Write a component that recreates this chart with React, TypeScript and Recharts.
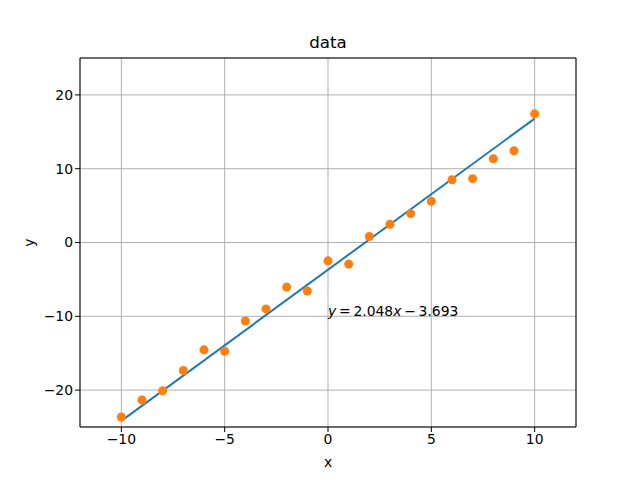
import {
  ComposedChart,
  Scatter,
  XAxis,
  YAxis,
  CartesianGrid,
  ReferenceArea,
  ReferenceDot,
} from 'recharts';

const xValues = [-10, -9, -8, -7, -6, -5, -4, -3, -2, -1, 0, 1, 2, 3, 4, 5, 6, 7, 8, 9, 10];
const yValues = [
  -23.65, -21.35, -20.09, -17.35, -14.55, -14.73, -10.64, -9.0, -6.04, -6.58, -2.49,
  -2.93, 0.81, 2.47, 3.92, 5.58, 8.51, 8.65, 11.35, 12.43, 17.43,
];
const fitX = [-10, 10];
const fitY = [-24.17, 16.79];
const xTicks = [-10, -5, 0, 5, 10];
const yTicks = [-20, -10, 0, 10, 20];

const points = xValues.map((x, i) => ({ x, y: yValues[i] }));
const fitLine = fitX.map((x, i) => ({ x, y: fitY[i] }));

const FONT = 'DejaVu Sans';
const THIN = '\u2009';

const EquationLabel = (props: any) => {
  const vb = props.viewBox || {};
  const x = vb.cx ?? vb.x;
  const y = vb.cy ?? vb.y;
  return (
    <text x={x} y={y} fontSize={13.9} fill="#000" fontFamily={FONT}>
      <tspan fontStyle="italic">y</tspan>
      <tspan>{`${THIN}=${THIN}2.048`}</tspan>
      <tspan fontStyle="italic">x</tspan>
      <tspan>{`${THIN}−${THIN}3.693`}</tspan>
    </text>
  );
};

const YLabel = (props: any) => {
  const vb = props.viewBox || {};
  const cx = 29;
  const cy = vb.y + vb.height / 2;
  return (
    <text
      x={cx}
      y={cy}
      transform={`rotate(-90 ${cx} ${cy})`}
      textAnchor="middle"
      dominantBaseline="central"
      fontSize={13.9}
      fill="#000"
      fontFamily={FONT}
    >
      y
    </text>
  );
};

const NoDot = () => null;

export default function App() {
  return (
    <div style={{ position: 'absolute', left: 0, top: 0, width: 640, height: 480, background: '#fff' }}>
      <div
        style={{
          position: 'absolute',
          left: 80,
          width: 496,
          top: 32,
          textAlign: 'center',
          fontFamily: FONT,
          fontSize: 16.7,
          color: '#000',
        }}
      >
        data
      </div>
      <ComposedChart
        width={640}
        height={480}
        margin={{ top: 58, right: 64, bottom: 13, left: 20 }}
        style={{ fontFamily: FONT }}
      >
        <CartesianGrid stroke="#b0b0b0" strokeWidth={1} />
        <XAxis
          type="number"
          dataKey="x"
          domain={[-12, 12]}
          ticks={xTicks}
          allowDataOverflow
          height={40}
          tickSize={5}
          axisLine={false}
          tickLine={{ stroke: '#000' }}
          tick={{ fill: '#000', fontSize: 13.9 }}
          tickFormatter={(v: number) => String(v).replace('-', '−')}
          label={{ value: 'x', position: 'insideBottom', offset: 0, fill: '#000', fontSize: 13.9 }}
        />
        <YAxis
          type="number"
          dataKey="y"
          domain={[-25, 25]}
          ticks={yTicks}
          allowDataOverflow
          width={60}
          tickSize={5}
          axisLine={false}
          tickLine={{ stroke: '#000' }}
          tick={{ fill: '#000', fontSize: 13.9 }}
          tickFormatter={(v: number) => String(v).replace('-', '−')}
          label={<YLabel />}
        />
        <Scatter
          data={fitLine}
          line={{ stroke: '#1f77b4', strokeWidth: 2 }}
          shape={NoDot}
          fill="#1f77b4"
          isAnimationActive={false}
        />
        <Scatter data={points} fill="#ff7f0e" shape="circle" isAnimationActive={false} />
        <ReferenceDot x={0} y={-10} r={0} fill="none" stroke="none" label={<EquationLabel />} />
        <ReferenceArea x1={-12} x2={12} y1={-25} y2={25} fill="none" stroke="#000" strokeWidth={1} fillOpacity={0} />
      </ComposedChart>
    </div>
  );
}
